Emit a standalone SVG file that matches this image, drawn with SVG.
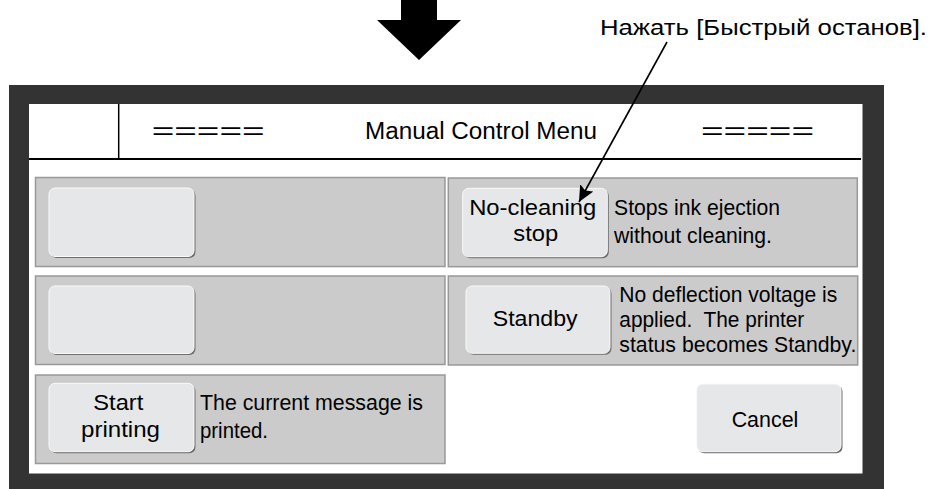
<svg xmlns="http://www.w3.org/2000/svg" width="932" height="489" viewBox="0 0 932 489">
<style>
text{font-family:"Liberation Sans",Arial,Helvetica,sans-serif;fill:#000}
.t{font-size:22.5px}
.h{font-size:23px}
.panel{fill:#cbcbcb;stroke:#999;stroke-width:1.5}
.btn{fill:#e6e7e9;stroke:#fafafa;stroke-width:1}
.sh{fill:#6f6f6f}
.ln{stroke:#000;fill:none}
</style>
<defs>
<marker id="ah" markerUnits="userSpaceOnUse" markerWidth="18" markerHeight="16" refX="16" refY="7.5" orient="auto">
<path d="M0,0 L16,7.5 L0,15 L3,7.5 z" fill="#000"/>
</marker>
</defs>
<g id="big-arrow"><polygon points="401,0 437,0 437,20 461,20 419,60 377,20 401,20" fill="#000"/></g>
<g id="screen">
<rect x="9" y="85" width="875" height="404" fill="#333"/>
<rect x="29" y="104" width="833.5" height="369.5" fill="#fff"/>
</g>
<g id="header">
<line class="ln" x1="118.7" y1="104" x2="118.7" y2="159" stroke-width="1.5"/>
<line class="ln" x1="29" y1="159" x2="861" y2="159" stroke-width="2"/>
<text class="h" x="151.7" y="139" textLength="113" lengthAdjust="spacingAndGlyphs">=====</text>
<text class="h" x="365" y="139" textLength="232" lengthAdjust="spacingAndGlyphs">Manual Control Menu</text>
<text class="h" x="701" y="139" textLength="113" lengthAdjust="spacingAndGlyphs">=====</text>
</g>
<g id="panel-empty-1">
<rect class="panel" x="35.5" y="177.5" width="409.5" height="89"/>
<rect class="sh" x="50.5" y="189.5" width="145" height="68.5" rx="6"/>
<rect class="btn" x="49" y="188" width="145" height="68.5" rx="6"/>
</g>
<g id="panel-empty-2">
<rect class="panel" x="35.5" y="276" width="409.5" height="88.5"/>
<rect class="sh" x="50.5" y="287.5" width="145" height="67.5" rx="6"/>
<rect class="btn" x="49" y="286" width="145" height="67.5" rx="6"/>
</g>
<g id="panel-start">
<rect class="panel" x="35.5" y="375" width="409.5" height="88.5"/>
<rect class="sh" x="50.5" y="384.8" width="145" height="68.4" rx="6"/>
<rect class="btn" x="49" y="383.3" width="145" height="68.4" rx="6"/>
<text class="t" x="118.3" y="410" text-anchor="middle" textLength="50" lengthAdjust="spacingAndGlyphs">Start</text>
<text class="t" x="120.5" y="437" text-anchor="middle" textLength="79" lengthAdjust="spacingAndGlyphs">printing</text>
<text class="t" x="200" y="410" textLength="223" lengthAdjust="spacingAndGlyphs">The current message is</text>
<text class="t" x="200" y="438" textLength="68" lengthAdjust="spacingAndGlyphs">printed.</text>
</g>
<g id="panel-nocleaning">
<rect class="panel" x="448.3" y="178" width="409" height="88.7"/>
<rect class="sh" x="464.2" y="189.8" width="144.6" height="68.4" rx="6"/>
<rect class="btn" x="462.7" y="188.3" width="144.6" height="68.4" rx="6"/>
<text class="t" x="532.7" y="215" text-anchor="middle" textLength="127" lengthAdjust="spacingAndGlyphs">No-cleaning</text>
<text class="t" x="535.8" y="241" text-anchor="middle" textLength="45" lengthAdjust="spacingAndGlyphs">stop</text>
<text class="t" x="614" y="215" textLength="166" lengthAdjust="spacingAndGlyphs">Stops ink ejection</text>
<text class="t" x="614" y="243" textLength="158" lengthAdjust="spacingAndGlyphs">without cleaning.</text>
</g>
<g id="panel-standby">
<rect class="panel" x="448.3" y="276" width="409.4" height="89"/>
<rect class="sh" x="467.5" y="287.5" width="144" height="67.3" rx="6"/>
<rect class="btn" x="466" y="286" width="144" height="67.3" rx="6"/>
<text class="t" x="535.2" y="326" text-anchor="middle" textLength="85" lengthAdjust="spacingAndGlyphs">Standby</text>
<text class="t" x="619.3" y="302" textLength="218" lengthAdjust="spacingAndGlyphs">No deflection voltage is</text>
<text class="t" x="619.3" y="327" textLength="185" lengthAdjust="spacingAndGlyphs">applied.&#160; The printer</text>
<text class="t" x="619.3" y="352" textLength="237" lengthAdjust="spacingAndGlyphs">status becomes Standby.</text>
</g>
<g id="btn-cancel">
<rect class="sh" x="698.2" y="385.5" width="144.3" height="67.7" rx="6"/>
<rect class="btn" x="696.7" y="384" width="144.3" height="67.7" rx="6"/>
<text class="t" x="765" y="426.7" text-anchor="middle" textLength="66.7" lengthAdjust="spacingAndGlyphs">Cancel</text>
</g>
<g id="callout">
<text class="t" x="600" y="35" textLength="327" lengthAdjust="spacingAndGlyphs">Нажать [Быстрый останов].</text>
</g>
<g id="connectors">
<line class="ln" x1="667" y1="42" x2="579" y2="202" stroke-width="1.6" marker-end="url(#ah)"/>
</g>
</svg>
